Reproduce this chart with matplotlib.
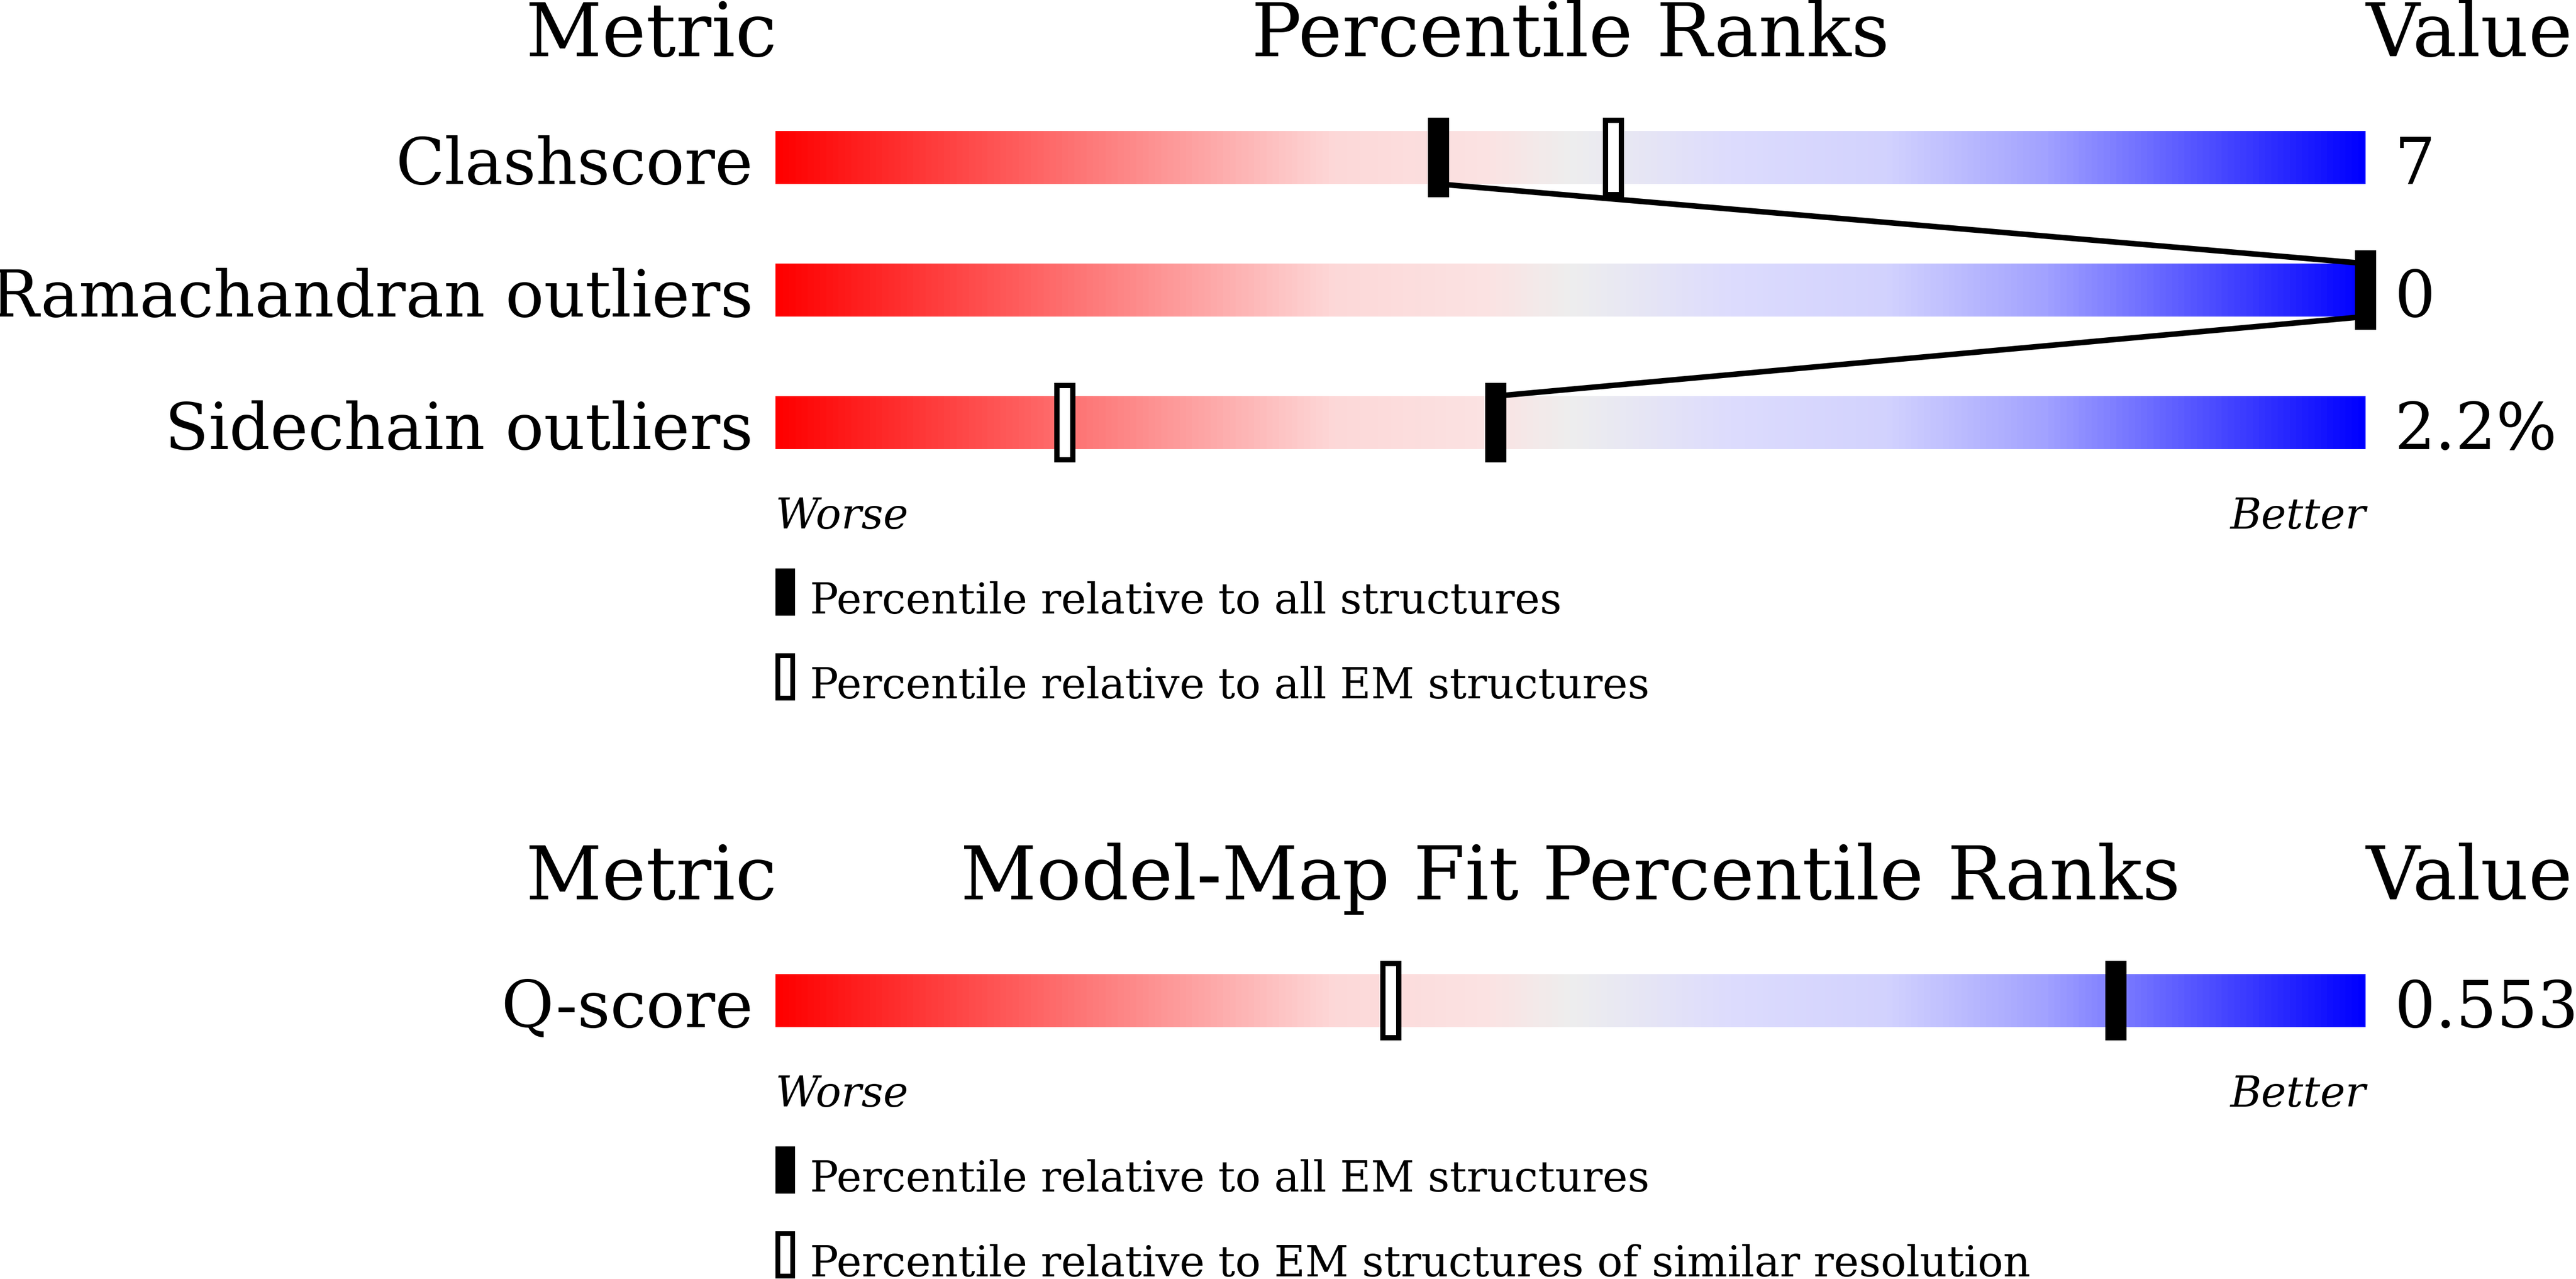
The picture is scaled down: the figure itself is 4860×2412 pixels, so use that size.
import numpy as np
import matplotlib
matplotlib.use('Agg')
import matplotlib.pyplot as plt
from matplotlib.colors import LinearSegmentedColormap
from matplotlib.patches import Rectangle

plt.rcParams['font.family'] = ['DejaVu Serif']

# geometry chart
metrics = ['Clashscore', 'Ramachandran outliers', 'Sidechain outliers']
metric_values = ['7', '0', '2.2%']
pct_all = [41.7, 100.0, 45.3]
pct_em = [52.7, 100.0, 18.2]
legend_geom = ['Percentile relative to all structures',
               'Percentile relative to all EM structures']

# model-map fit chart
fit_metrics = ['Q-score']
fit_values = ['0.553']
fit_pct_em = [84.3]
fit_pct_res = [38.7]
legend_fit = ['Percentile relative to all EM structures',
              'Percentile relative to EM structures of similar resolution']

slider = LinearSegmentedColormap.from_list('slider', [
    (0.0, '#ff0000'), (0.35, '#fdd8d8'), (0.45, '#fbe3e3'), (0.5, '#eeeeee'),
    (0.6, '#dddcfd'), (0.7, '#d2d2fe'), (0.8, '#a2a2ff'), (1.0, '#0000ff')])
grad = np.linspace(0, 1, 600)[None, :]

W, H = 4860, 2412
fig = plt.figure(figsize=(W / 100, H / 100), dpi=100)

BAR_L, BAR_R = 1463, 4463
ROW = 250                      # pixels per row unit
XU = (BAR_R - BAR_L) / 100     # pixels per percentile unit

FS_HEAD = 101
FS_LAB = 87
FS_SMALL = 57.6


def panel_axes(px_top, px_bottom, first_row_px):
    ax = fig.add_axes([BAR_L / W, 1 - px_bottom / H, (BAR_R - BAR_L) / W, (px_bottom - px_top) / H])
    ax.axis('off')
    lims = ((px_bottom - first_row_px) / ROW, (px_top - first_row_px) / ROW)
    return ax, lims


def marker(ax, x, y0, w, h, filled, bx, by, z):
    ax.add_patch(Rectangle((x, y0), w, h, fc='black', ec='none', zorder=z, clip_on=False))
    if not filled:
        ax.add_patch(Rectangle((x + bx, y0 + by), w - 2 * bx, h - 2 * by,
                               fc='white', ec='none', zorder=z + 0.5, clip_on=False))


def draw_panel(ax, lims, title, names, vals, filled_pct, open_pct, legend, connect):
    n = len(names)
    ax.text(3 / XU, -0.764, 'Metric', ha='right', va='baseline', fontsize=FS_HEAD)
    ax.text(50, -0.764, title, ha='center', va='baseline', fontsize=FS_HEAD)
    ax.text(100, -0.764, 'Value', ha='left', va='baseline', fontsize=FS_HEAD)

    for i, (name, val) in enumerate(zip(names, vals)):
        ax.imshow(grad, cmap=slider, aspect='auto', extent=(0, 100, i + 0.2, i - 0.2),
                  interpolation='bilinear', zorder=1)
        ax.text(-42 / XU, i + 0.2, name, ha='right', va='baseline', fontsize=FS_LAB)
        ax.text(100 + 55 / XU, i + 0.2, val, ha='left', va='baseline', fontsize=FS_LAB)

    mw = 40 / XU
    for i, p in enumerate(open_pct):
        marker(ax, p - mw / 2, i - 0.3, mw, 0.6, False, 10 / XU, 10 / ROW, 4)
    for i, p in enumerate(filled_pct):
        marker(ax, p - mw / 2, i - 0.3, mw, 0.6, True, 0, 0, 6)

    if connect and n > 1:
        xs, ys = [], []
        for i, p in enumerate(filled_pct):
            if i > 0:
                xs.append(p)
                ys.append(i - 0.2)
            if i < n - 1:
                xs.append(p)
                ys.append(i + 0.2)
        ax.plot(xs, ys, color='black', lw=7.5, zorder=3, solid_capstyle='butt', clip_on=False)

    last = n - 1
    ax.text(0, last + 0.8, 'Worse', style='italic', ha='left', va='baseline', fontsize=FS_SMALL)
    ax.text(100, last + 0.8, 'Better', style='italic', ha='right', va='baseline', fontsize=FS_SMALL)

    lw_ = 37 / XU
    for k, txt in enumerate(legend):
        top = last + 1.1 + 0.64 * k
        marker(ax, 0, top, lw_, 0.356, k == 0, 9 / XU, 9 / ROW, 4)
        ax.text(65 / XU, last + 1.44 + 0.64 * k, txt, ha='left', va='baseline', fontsize=FS_SMALL)

    ax.set_xlim(0, 100)
    ax.set_ylim(*lims)


ax1, lims1 = panel_axes(0, 1206, 297)
draw_panel(ax1, lims1, 'Percentile Ranks', metrics, metric_values, pct_all, pct_em, legend_geom, True)

ax2, lims2 = panel_axes(1206, 2412, 1887)
draw_panel(ax2, lims2, 'Model-Map Fit Percentile Ranks', fit_metrics, fit_values,
           fit_pct_em, fit_pct_res, legend_fit, False)

fig.savefig('out.png', dpi=100, facecolor='white')
